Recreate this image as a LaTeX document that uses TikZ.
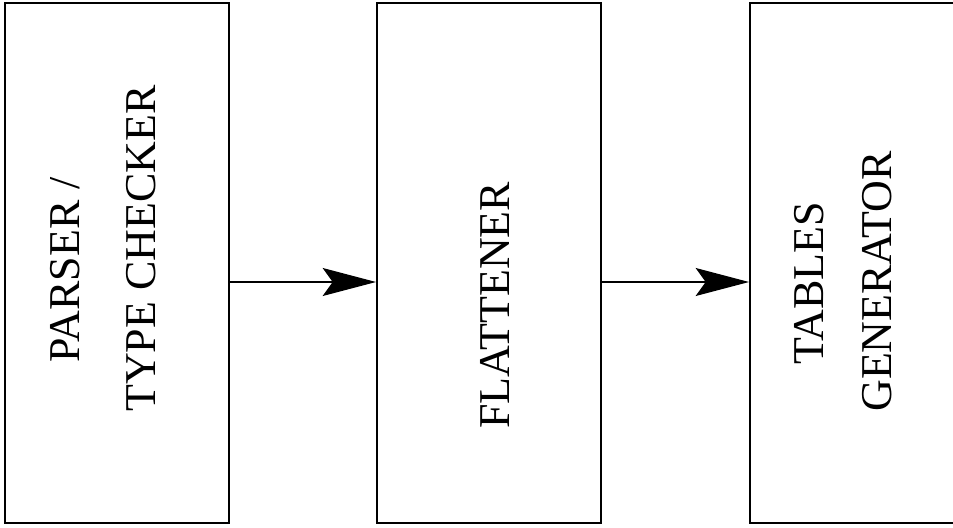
\documentclass[tikz,border=0pt]{standalone}
\usepackage{fontspec}
\setmainfont{Liberation Serif}
\usetikzlibrary{arrows.meta}
\begin{document}
\begin{tikzpicture}[x=0.75pt,y=-0.75pt,
  stage/.style={draw,line width=1.5pt,rectangle,inner sep=0pt,minimum height=390pt},
  label/.style={rotate=90,anchor=base west,inner sep=0pt,font=\fontsize{33}{40}\selectfont},
  flow/.style={line width=0.9pt,-{Stealth[length=40pt,width=21pt,inset=7.5pt]}}]
\useasboundingbox (0,0) rectangle (953,528);
% the three processing stages
\node[stage,minimum width=168pt] (parser) at (117,263) {};
\node[stage,minimum width=168pt] (flat) at (489,263) {};
\node[stage,minimum width=157.5pt] (tables) at (855,263) {};
% stage labels, set vertically
\node[label] (p1) at (79,363) {PARSER /};
\node[label] (p2) at (155,412) {TYPE CHECKER};
\node[label] (f1) at (509,429) {FLATTENER};
\node[label] (t1) at (823,365) {TABLES};
\node[label] (t2) at (891,412) {GENERATOR};
% data flow between stages
\coordinate (lane) at (0,282);
\draw[flow] (parser.east |- lane) -- (flat.west |- lane);
\draw[flow] (flat.east |- lane) -- (tables.west |- lane);
\end{tikzpicture}
\end{document}
